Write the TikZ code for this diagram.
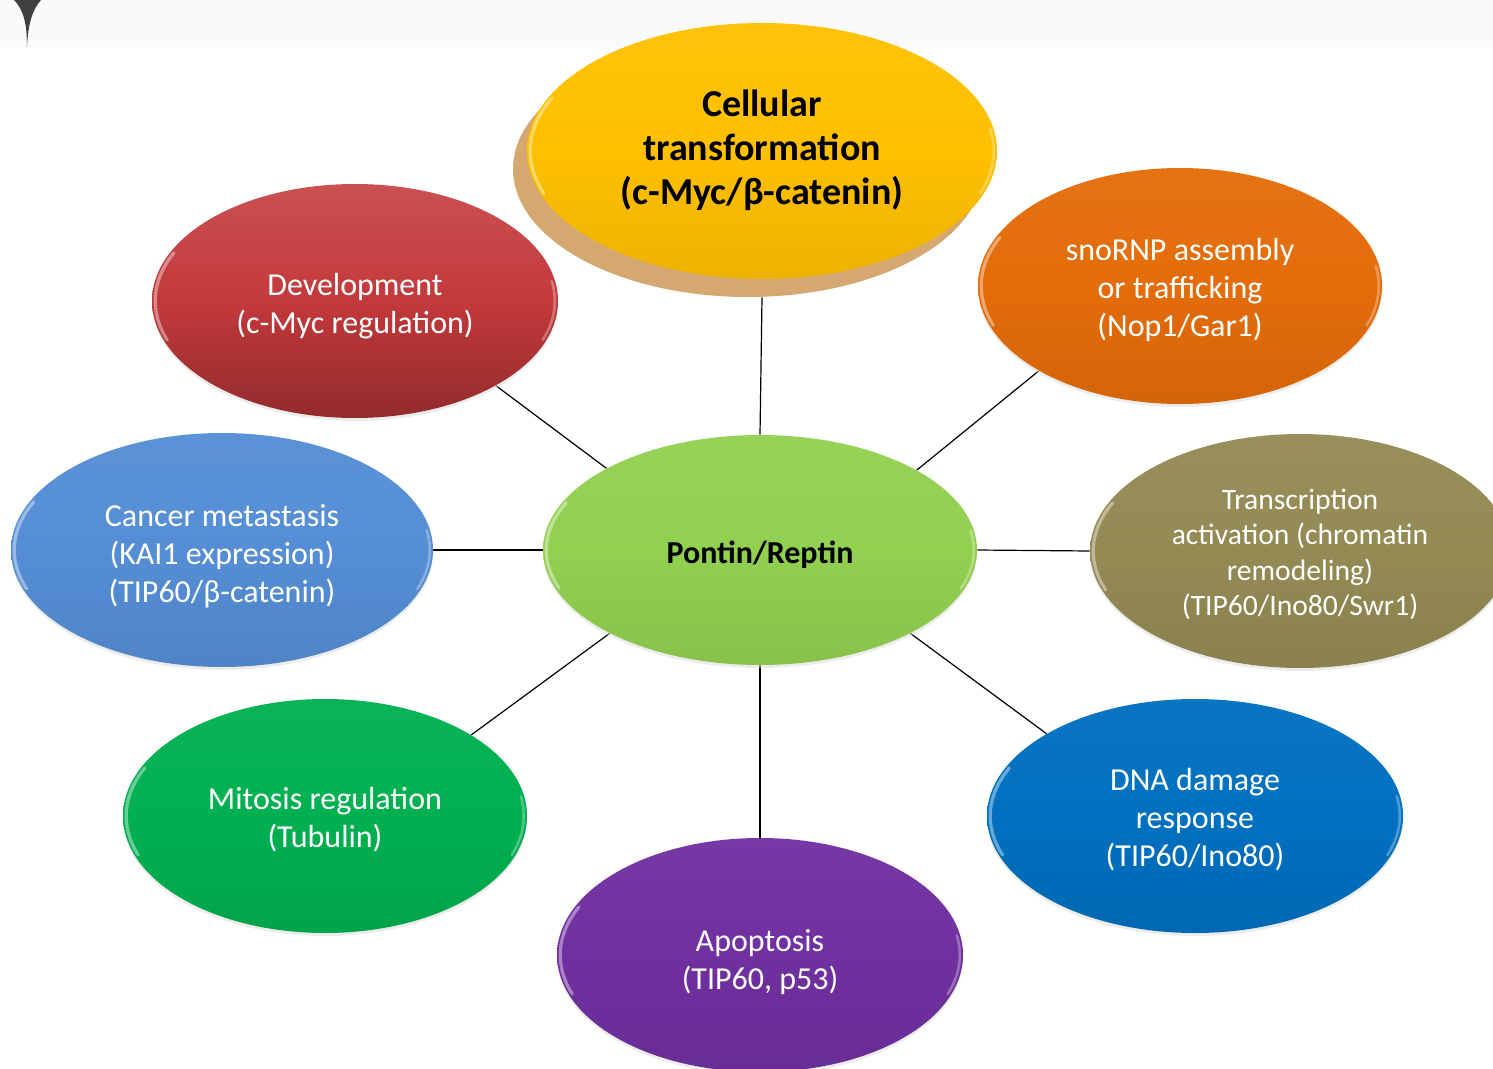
\documentclass[tikz,border=0pt]{standalone}
\usepackage{fontspec}
\setmainfont{Carlito}
\usetikzlibrary{shapes.geometric,shadows,backgrounds,calc}
\definecolor{cYel}{HTML}{FFC000}
\definecolor{cTan}{HTML}{D4A870}
\definecolor{cRed}{HTML}{C3393B}
\definecolor{cOra}{HTML}{E46C0A}
\definecolor{cLime}{HTML}{92D050}
\definecolor{cSky}{HTML}{558ED5}
\definecolor{cOli}{HTML}{948A54}
\definecolor{cGrn}{HTML}{00B050}
\definecolor{cBlu}{HTML}{0070C0}
\definecolor{cPur}{HTML}{7030A0}
\definecolor{cBand}{HTML}{FAFAFA}
\newcommand\dn[2][-2.5pt]{\raisebox{#1}[\height][\depth]{\begin{tabular}{@{}c@{}}#2\end{tabular}}}
\begin{document}
\begin{tikzpicture}[x=0.5pt,y=-0.5pt,
  glint/.style={path picture={
    \path (path picture bounding box.north east) coordinate (gNE)
          (path picture bounding box.center) coordinate (gC);
    \draw[white, opacity=.4, line width=1.6pt, line cap=round]
      let \p1=($(gNE)-(gC)$) in
      ($(gC)+({(\x1-1.6pt)*cos(155)},{(\y1-1.6pt)*sin(155)})$)
      arc[start angle=155, end angle=200, x radius=\x1-1.6pt, y radius=\y1-1.6pt];
    \draw[white, opacity=.3, line width=1.3pt, line cap=round]
      let \p1=($(gNE)-(gC)$) in
      ($(gC)+({(\x1-1.6pt)*cos(-20)},{(\y1-1.6pt)*sin(-20)})$)
      arc[start angle=-20, end angle=10, x radius=\x1-1.6pt, y radius=\y1-1.6pt];
  }},
  blob/.style={ellipse, inner sep=0pt, align=center, text=white,
    font=\fontsize{16}{19}\selectfont, glint,
    general shadow={fill=black!15, shadow yshift=-1.5pt, opacity=0.5}},
  tone/.style={top color=#1!96!white, bottom color=#1!93!black, middle color=#1},
  link/.style={draw=black, line width=0.6pt}]
\useasboundingbox (0,0) rectangle (1493,1069);
\clip (0,0) rectangle (1493,1069);
\fill[cBand] (0,0) rectangle (1493,47);
\fill[black!75] (14,0) .. controls (24,10) and (27,25) .. (27,47)
  .. controls (28,25) and (32,10) .. (41,0) -- cycle;

\node[ellipse, inner sep=0pt, minimum width=235pt, minimum height=128pt,
  align=center, font=\bfseries\fontsize{19}{22}\selectfont, glint,
  general shadow={fill=cTan, shadow xshift=-7pt, shadow yshift=-9pt},
  tone=cYel] (yel) at (762,151) {\dn[-0.5pt]{Cellular\\transformation\\(c-Myc/β-catenin)}};
\node[blob, minimum width=203pt, minimum height=117pt,
  top color=cRed!88!white, bottom color=cRed!75!black, middle color=cRed]
  (red) at (355,301) {\dn[-3pt]{Development\\(c-Myc regulation)}};
\node[blob, minimum width=202pt, minimum height=118pt, tone=cOra]
  (ora) at (1180,286) {\dn{snoRNP assembly\\or trafficking\\(Nop1/Gar1)}};
\node[blob, minimum width=217pt, minimum height=115pt, tone=cLime,
  text=black, font=\bfseries\fontsize{16}{19}\selectfont]
  (pr) at (760,550) {\dn[-3pt]{Pontin/Reptin}};
\node[blob, minimum width=211pt, minimum height=117pt, tone=cSky]
  (lb) at (222,550) {\dn[-3.5pt]{Cancer metastasis\\(KAI1 expression)\\(TIP60/β-catenin)}};
\node[blob, minimum width=210pt, minimum height=117pt, tone=cOli,
  font=\fontsize{14.8}{17.8}\selectfont]
  (oli) at (1300,551) {\dn[-2.2pt]{Transcription\\activation (chromatin\\remodeling)\\(TIP60/Ino80/Swr1)}};
\node[blob, minimum width=202pt, minimum height=117pt, tone=cGrn]
  (gr) at (325,816) {\dn{Mitosis regulation\\(Tubulin)}};
\node[blob, minimum width=208pt, minimum height=117pt, tone=cBlu]
  (db) at (1195,816) {\dn{DNA damage\\response\\(TIP60/Ino80)}};
\node[blob, minimum width=203pt, minimum height=117pt, tone=cPur]
  (pu) at (760,955) {\dn[-3.8pt]{Apoptosis\\(TIP60, p53)}};

\begin{pgfonlayer}{background}
\draw[link] (yel.south) ++(0,18) -- (pr.north);
\draw[link] (red.-31) -- (pr.152);
\draw[link] (ora.-149) -- (pr.27);
\draw[link] (lb.east) -- (pr.west);
\draw[link] (pr.east) -- (oli.west);
\draw[link] (pr.-151) -- (gr.29);
\draw[link] (pr.-29) -- (db.151);
\draw[link] (pr.south) -- (pu.north);
\end{pgfonlayer}
\end{tikzpicture}
\end{document}
